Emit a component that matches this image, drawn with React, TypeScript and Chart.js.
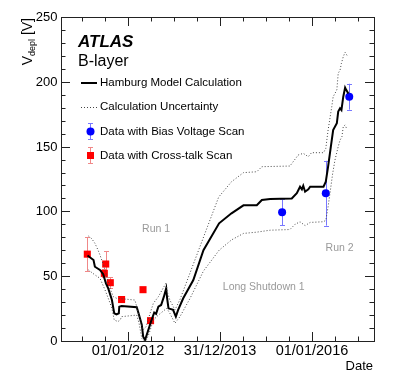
import React, { useEffect, useRef } from "react";
import { Chart, registerables } from "chart.js";
Chart.register(...registerables);

// ---------- data (decimal year, V_depl [V]) ----------
const hamburgX = [2011.12, 2011.17, 2011.25, 2011.28, 2011.39, 2011.46, 2011.52, 2011.57, 2011.65, 2011.70, 2011.75, 2011.80, 2011.81, 2011.86, 2012.19, 2012.24, 2012.30, 2012.33, 2012.37, 2012.43, 2012.50, 2012.57, 2012.61, 2012.66, 2012.72, 2012.78, 2012.83, 2012.85, 2012.88, 2012.98, 2013.04, 2013.09, 2013.20, 2013.42, 2013.64, 2013.98, 2014.25, 2014.51, 2014.80, 2014.91, 2015.09, 2015.56, 2015.67, 2015.74, 2015.78, 2015.81, 2015.85, 2015.92, 2015.96, 2016.25, 2016.30, 2016.35, 2016.41, 2016.46, 2016.54, 2016.57, 2016.61, 2016.64, 2016.68, 2016.72, 2016.74, 2016.79];
const hamburgY = [66, 64.6, 62.5, 57.3, 54.8, 51.5, 44.5, 40.6, 31.6, 21.4, 20.6, 21.4, 26.5, 27, 26, 20, 12.3, 3.3, 0.8, 7.2, 14.9, 22, 21, 26.5, 27.8, 34.2, 40.6, 33, 25.2, 24, 18.8, 24, 33, 47, 70, 90.8, 98.5, 104.7, 104.7, 108.8, 109.5, 110, 114, 119, 117, 119.8, 115.2, 117, 119, 119, 122.9, 134.5, 150, 162.8, 168, 177, 179.5, 178.2, 188.5, 195.5, 194, 191];

const upperX = [2011.14, 2011.21, 2011.28, 2011.35, 2011.39, 2011.48, 2011.54, 2011.61, 2011.68, 2011.75, 2012.15, 2012.19, 2012.26, 2012.33, 2012.39, 2012.48, 2012.55, 2012.66, 2012.83, 2012.85, 2012.91, 2013.02, 2013.13, 2013.97, 2014.25, 2014.51, 2014.80, 2014.91, 2015.52, 2015.70, 2015.81, 2015.92, 2015.99, 2016.25, 2016.30, 2016.35, 2016.43, 2016.46, 2016.54, 2016.57, 2016.61, 2016.64, 2016.68, 2016.72, 2016.77];
const upperY = [81, 79, 75.4, 70, 66.4, 57.3, 49.6, 40.6, 34.2, 33, 31.6, 26.5, 16.2, 8.5, 11, 21.4, 29, 34.2, 45, 38, 31.6, 24, 32, 111, 122.9, 129.9, 130.6, 134.5, 135, 143.5, 144.8, 142.2, 145.3, 145.3, 148.6, 162.8, 180.8, 188.5, 193.7, 206.6, 209, 214.3, 219.4, 222.8, 219.9];

const lowerX = [2011.14, 2011.28, 2011.39, 2011.50, 2011.57, 2011.65, 2011.70, 2011.78, 2011.83, 2011.86, 2012.19, 2012.24, 2012.30, 2012.35, 2012.39, 2012.46, 2012.55, 2012.66, 2012.84, 2012.91, 2013.02, 2013.13, 2013.35, 2013.64, 2013.98, 2014.25, 2014.51, 2014.80, 2015.09, 2015.52, 2015.63, 2015.74, 2015.85, 2015.96, 2016.24, 2016.30, 2016.35, 2016.41, 2016.45, 2016.50, 2016.57, 2016.61, 2016.65, 2016.68, 2016.72, 2016.75];
const lowerY = [54.8, 51, 48.4, 39.4, 33, 25.2, 16.2, 15, 16.2, 18.8, 20, 13.7, 2, 0, 0, 5.9, 16.2, 20, 25.2, 21.4, 13.7, 18.8, 33, 54, 70, 78, 83, 84, 85.5, 86, 90, 92, 89, 91.5, 92, 93, 103.6, 119, 129.4, 139.7, 150, 155, 157.6, 165.4, 166.7, 164.1];

const biasX = [2015.35, 2016.30, 2016.81];
const biasY = [99.3, 114, 188.5];
const biasErr = [10, 25, 10];

const xtalkX = [2011.115, 2011.515, 2011.485, 2011.615, 2011.86, 2012.326, 2012.49];
const xtalkY = [67, 59.4, 52.2, 45, 32, 39.6, 15.7];
const xtalkErr = [13, 10, 3, 4, 0, 0, 0];

const xMajorTicks = [2012, 2014, 2016];
const xTickLabels = ["01/01/2012", "31/12/2013", "01/01/2016"];
const xMinorTicks = [2011, 2011.5, 2012.5, 2013, 2013.5, 2014.5, 2015, 2015.5, 2016.5, 2017];
const yMajorTicks = [0, 50, 100, 150, 200, 250];
const yMinorTicks = [10, 20, 30, 40, 60, 70, 80, 90, 110, 120, 130, 140, 160, 170, 180, 190, 210, 220, 230, 240];

const legendLabels = [
  "Hamburg Model Calculation",
  "Calculation Uncertainty",
  "Data with Bias Voltage Scan",
  "Data with Cross-talk Scan",
];

const X_MIN = 2010.543;
const X_MAX = 2017.348;
const FONT = '"Liberation Sans", Arial, Helvetica, sans-serif';

const pts = (xs: number[], ys: number[]) => xs.map((x, i) => ({ x, y: ys[i] }));

function drawErr(ctx: CanvasRenderingContext2D, xs: any, ys: any, X: number[], Y: number[], E: number[], color: string) {
  ctx.save();
  ctx.strokeStyle = color;
  ctx.lineWidth = 1;
  for (let i = 0; i < X.length; i++) {
    if (!E[i]) continue;
    const px = Math.round(xs.getPixelForValue(X[i])) + 0.5;
    const y1 = ys.getPixelForValue(Y[i] + E[i]);
    const y2 = ys.getPixelForValue(Y[i] - E[i]);
    ctx.beginPath();
    ctx.moveTo(px, y1);
    ctx.lineTo(px, y2);
    ctx.moveTo(px - 2.5, Math.round(y1) + 0.5);
    ctx.lineTo(px + 2.5, Math.round(y1) + 0.5);
    ctx.moveTo(px - 2.5, Math.round(y2) + 0.5);
    ctx.lineTo(px + 2.5, Math.round(y2) + 0.5);
    ctx.stroke();
  }
  ctx.restore();
}

const decorPlugin = {
  id: "atlasDecor",
  beforeDatasetsDraw(chart: any) {
    const { ctx, scales } = chart;
    drawErr(ctx, scales.x, scales.y, xtalkX, xtalkY, xtalkErr, "#f08888");
    drawErr(ctx, scales.x, scales.y, biasX, biasY, biasErr, "#7878ff");
  },
  afterDraw(chart: any) {
    const { ctx, chartArea, scales } = chart;
    const xs = scales.x;
    const ys = scales.y;
    const { left, right, top, bottom } = chartArea;
    ctx.save();
    // frame
    ctx.strokeStyle = "#222";
    ctx.lineWidth = 1;
    ctx.strokeRect(Math.round(left) + 0.5, Math.round(top) + 0.5, Math.round(right - left), Math.round(bottom - top));
    // ticks
    ctx.beginPath();
    const xTick = (v: number, len: number) => {
      const px = Math.round(xs.getPixelForValue(v)) + 0.5;
      ctx.moveTo(px, bottom);
      ctx.lineTo(px, bottom - len);
      ctx.moveTo(px, top);
      ctx.lineTo(px, top + len);
    };
    const yTick = (v: number, len: number) => {
      const py = Math.round(ys.getPixelForValue(v)) + 0.5;
      ctx.moveTo(left, py);
      ctx.lineTo(left + len, py);
      ctx.moveTo(right, py);
      ctx.lineTo(right - len, py);
    };
    xMajorTicks.forEach((v) => xTick(v, 9));
    xMinorTicks.forEach((v) => xTick(v, 4.5));
    yMajorTicks.forEach((v) => yTick(v, 9));
    yMinorTicks.forEach((v) => yTick(v, 4.5));
    ctx.stroke();

    // tick labels
    ctx.fillStyle = "#000";
    ctx.font = `14.5px ${FONT}`;
    ctx.textAlign = "center";
    ctx.textBaseline = "middle";
    xMajorTicks.forEach((v, i) => ctx.fillText(xTickLabels[i], xs.getPixelForValue(v), 351));
    ctx.font = `13px ${FONT}`;
    ctx.textAlign = "right";
    yMajorTicks.forEach((v) => ctx.fillText(String(v), 57.5, ys.getPixelForValue(v) + 0.5));

    // axis titles
    ctx.font = `13px ${FONT}`;
    ctx.textAlign = "right";
    ctx.fillText("Date", 373, 366);

    ctx.save();
    ctx.translate(32, 18);
    ctx.rotate(-Math.PI / 2);
    ctx.textAlign = "left";
    ctx.textBaseline = "alphabetic";
    const parts: [string, number, number][] = [["V", 14, 0], ["depl", 9, 3], [" [V]", 14, 0]];
    let total = 0;
    parts.forEach(([t, s]) => { ctx.font = `${s}px ${FONT}`; total += ctx.measureText(t).width; });
    let cx = -total;
    parts.forEach(([t, s, dy]) => {
      ctx.font = `${s}px ${FONT}`;
      ctx.fillText(t, cx, dy);
      cx += ctx.measureText(t).width;
    });
    ctx.restore();

    // ATLAS label
    ctx.textAlign = "left";
    ctx.textBaseline = "alphabetic";
    ctx.font = `italic bold 17px ${FONT}`;
    ctx.fillText("ATLAS", 78, 47);
    ctx.font = `16px ${FONT}`;
    ctx.fillText("B-layer", 78, 66);

    // legend
    ctx.font = `11.5px ${FONT}`;
    ctx.textBaseline = "middle";
    const ly = [83, 107, 131.5, 155.5];
    legendLabels.forEach((t, i) => ctx.fillText(t, 100, ly[i]));
    // legend symbols
    ctx.strokeStyle = "#000";
    ctx.lineWidth = 2;
    ctx.beginPath();
    ctx.moveTo(81, ly[0]);
    ctx.lineTo(97, ly[0]);
    ctx.stroke();
    ctx.strokeStyle = "#444";
    ctx.lineWidth = 1;
    ctx.setLineDash([1, 2]);
    ctx.beginPath();
    ctx.moveTo(81, ly[1] + 0.5);
    ctx.lineTo(97, ly[1] + 0.5);
    ctx.stroke();
    ctx.setLineDash([]);
    // blue
    ctx.strokeStyle = "#7878ff";
    ctx.beginPath();
    ctx.moveTo(90.5, 123); ctx.lineTo(90.5, 140);
    ctx.moveTo(88, 123.5); ctx.lineTo(93, 123.5);
    ctx.moveTo(88, 139.5); ctx.lineTo(93, 139.5);
    ctx.stroke();
    ctx.fillStyle = "#0000ff";
    ctx.beginPath();
    ctx.arc(90.5, ly[2], 4, 0, Math.PI * 2);
    ctx.fill();
    // red
    ctx.strokeStyle = "#f08888";
    ctx.beginPath();
    ctx.moveTo(90.5, 147); ctx.lineTo(90.5, 164);
    ctx.moveTo(88, 147.5); ctx.lineTo(93, 147.5);
    ctx.moveTo(88, 163.5); ctx.lineTo(93, 163.5);
    ctx.stroke();
    ctx.fillStyle = "#ff0000";
    ctx.fillRect(87, ly[3] - 3.5, 7, 7);

    // period annotations
    ctx.fillStyle = "#999";
    ctx.font = `10.5px ${FONT}`;
    ctx.textAlign = "center";
    ctx.fillText("Run 1", xs.getPixelForValue(2012.61), ys.getPixelForValue(86.4));
    ctx.fillText("Long Shutdown 1", xs.getPixelForValue(2014.95), ys.getPixelForValue(41.4));
    ctx.fillText("Run 2", xs.getPixelForValue(2016.6), ys.getPixelForValue(72));
    ctx.restore();
  },
};

export default function App() {
  const ref = useRef<HTMLCanvasElement>(null);
  useEffect(() => {
    document.body.style.margin = "0";
    const canvas = ref.current;
    if (!canvas) return;
    const chart = new Chart(canvas, {
      type: "scatter",
      data: {
        datasets: [
          {
            label: "Calculation Uncertainty (upper)",
            data: pts(upperX, upperY),
            showLine: true,
            borderColor: "#444",
            borderWidth: 1,
            borderDash: [1, 2],
            pointRadius: 0,
            fill: false,
          },
          {
            label: "Calculation Uncertainty (lower)",
            data: pts(lowerX, lowerY),
            showLine: true,
            borderColor: "#444",
            borderWidth: 1,
            borderDash: [1, 2],
            pointRadius: 0,
            fill: false,
          },
          {
            label: "Hamburg Model Calculation",
            data: pts(hamburgX, hamburgY),
            showLine: true,
            borderColor: "#000",
            borderWidth: 2,
            pointRadius: 0,
            fill: false,
          },
          {
            label: "Data with Bias Voltage Scan",
            data: pts(biasX, biasY),
            showLine: false,
            pointStyle: "circle",
            pointRadius: 4,
            backgroundColor: "#0000ff",
            borderColor: "#0000ff",
            borderWidth: 0,
          },
          {
            label: "Data with Cross-talk Scan",
            data: pts(xtalkX, xtalkY),
            showLine: false,
            pointStyle: "rect",
            pointRadius: 5,
            backgroundColor: "#ff0000",
            borderColor: "#ff0000",
            borderWidth: 0,
          },
        ],
      },
      options: {
        responsive: false,
        animation: false,
        devicePixelRatio: 1,
        layout: { padding: { left: 61, right: 33, top: 17, bottom: 47 } },
        scales: {
          x: { type: "linear", min: X_MIN, max: X_MAX, display: false },
          y: { type: "linear", min: 0, max: 250, display: false },
        },
        plugins: { legend: { display: false }, tooltip: { enabled: false } },
      },
      plugins: [decorPlugin],
    });
    return () => chart.destroy();
  }, []);
  return <canvas ref={ref} width={407} height={388} style={{ display: "block", width: 407, height: 388 }} />;
}
